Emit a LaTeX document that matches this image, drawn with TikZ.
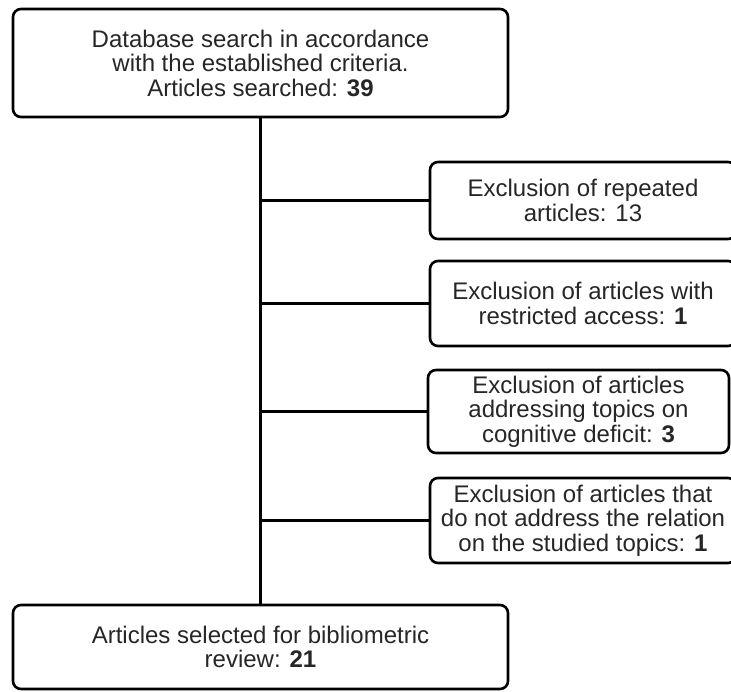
\documentclass[tikz,border=0pt]{standalone}
\usepackage{fontspec}
\setmainfont{Liberation Sans}
\begin{document}
\begin{tikzpicture}[x=1pt,y=-1pt,
  box/.style={draw=black, line width=2.6pt, rounded corners=8pt, align=center,
    inner sep=0pt, text=black!85, font=\fontsize{24}{24.5}\selectfont},
  mainbox/.style={box, minimum width=495pt},
  sidebox/.style={box, minimum width=306pt},
  link/.style={draw=black, line width=2.6pt}]
\useasboundingbox (0,0) rectangle (731,691);

\node[mainbox, minimum height=108pt] (top) at (260.5,63)
  {Database search in accordance\\with the established criteria.\\Articles searched: \textbf{39}};
\node[mainbox, minimum height=84pt] (bottom) at (260.5,647)
  {Articles selected for bibliometric\\review: \textbf{21}};

\node[sidebox, minimum height=77pt] (r1) at (583,200.5)
  {Exclusion of repeated\\articles: 13};
\node[sidebox, minimum height=85pt] (r2) at (583,303.5)
  {Exclusion of articles with\\restricted access: \textbf{1}};
\node[sidebox, minimum width=301pt, minimum height=83pt] (r3) at (578.5,411.5)
  {Exclusion of articles\\addressing topics on\\cognitive deficit: \textbf{3}};
\node[sidebox, minimum height=85pt] (r4) at (583,520.5)
  {Exclusion of articles that\\do not address the relation\\on the studied topics: \textbf{1}};

\draw[link] (top.south) -- (bottom.north);
\draw[link] (top.south |- r1.west) -- (r1.west);
\draw[link] (top.south |- r2.west) -- (r2.west);
\draw[link] (top.south |- r3.west) -- (r3.west);
\draw[link] (top.south |- r4.west) -- (r4.west);
\end{tikzpicture}
\end{document}
